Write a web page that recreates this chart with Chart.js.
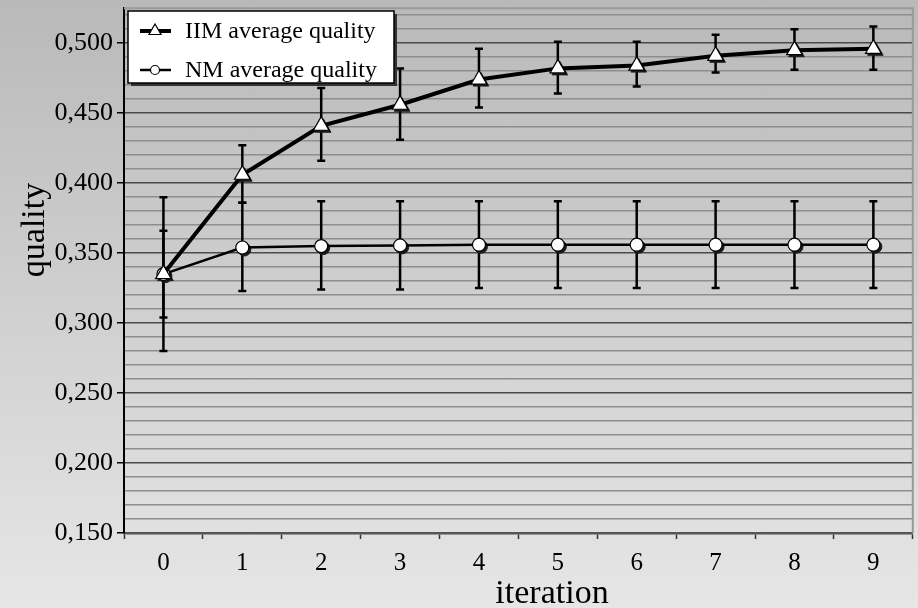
<!DOCTYPE html>
<html lang="en">
<head>
    <meta charset="UTF-8">
    <title>IIM vs NM average quality</title>
    <script src="https://cdn.jsdelivr.net/npm/chart.js"></script>
    <style>
        html, body {
            margin: 0;
            padding: 0;
            width: 100%;
            height: 100%;
            overflow: hidden;
        }
        body {
            background: linear-gradient(to bottom, #b9b9b9, #e6e6e6);
        }
        /* a bit wider/taller than the window: Chart.js keeps ~10px around the markers */
        .wrap {
            width: 923px;
            height: 610px;
            margin-top: -2px;
            position: relative;
        }
    </style>
</head>
<body>

    <div class="wrap"><canvas id="qualityChart"></canvas></div>

    <script>
        const iterations = ['0', '1', '2', '3', '4', '5', '6', '7', '8', '9'];

        const iimMean  = [0.335, 0.406, 0.441, 0.456, 0.474, 0.482, 0.484, 0.491, 0.495, 0.496];
        const iimUpper = [0.366, 0.427, 0.468, 0.482, 0.496, 0.501, 0.501, 0.506, 0.510, 0.512];
        const iimLower = [0.304, 0.386, 0.416, 0.431, 0.454, 0.464, 0.469, 0.479, 0.481, 0.481];

        const nmMean  = [0.335, 0.354, 0.355, 0.3555, 0.356, 0.356, 0.356, 0.356, 0.356, 0.356];
        const nmUpper = [0.390, 0.386, 0.387, 0.387, 0.387, 0.387, 0.387, 0.387, 0.387, 0.387];
        const nmLower = [0.280, 0.323, 0.324, 0.324, 0.325, 0.325, 0.325, 0.325, 0.325, 0.325];

        const yMin = 0.15;
        const yMax = 0.525;
        const xTitle = 'iteration';
        const yTitle = 'quality';

        const FONT = "'Liberation Serif', 'Times New Roman', serif";

        // minor gridline every 0.01, labelled every 0.05
        const yTicks = [];
        for (let k = 15; k <= 52; k++) yTicks.push(k / 100);
        const isMajor = v => Math.round(v * 100) % 5 === 0;

        // vertical error bars + marker shadows, drawn under the lines and markers
        const errorBars = {
            id: 'errorBars',
            beforeDatasetsDraw(chart) {
                const ctx = chart.ctx;
                const yScale = chart.scales.y;
                chart.data.datasets.forEach((ds, i) => {
                    const meta = chart.getDatasetMeta(i);
                    ctx.save();
                    ctx.strokeStyle = '#000';
                    ctx.lineWidth = 2.5;
                    meta.data.forEach((pt, j) => {
                        const top = yScale.getPixelForValue(ds.errUpper[j]);
                        const bot = yScale.getPixelForValue(ds.errLower[j]);
                        ctx.beginPath();
                        ctx.moveTo(pt.x, top);
                        ctx.lineTo(pt.x, bot);
                        ctx.moveTo(pt.x - 4, top);
                        ctx.lineTo(pt.x + 4, top);
                        ctx.moveTo(pt.x - 4, bot);
                        ctx.lineTo(pt.x + 4, bot);
                        ctx.stroke();
                    });
                    ctx.fillStyle = '#1a1a1a';
                    ctx.strokeStyle = '#1a1a1a';
                    ctx.lineWidth = 1;
                    meta.data.forEach(pt => {
                        Chart.helpers.drawPoint(ctx, {
                            pointStyle: ds.pointStyle,
                            radius: ds.pointRadius,
                            borderWidth: 1
                        }, pt.x + 2, pt.y + 2);
                    });
                    ctx.restore();
                });
            }
        };

        // top/right frame, axis titles and the boxed legend inside the plot
        const decorations = {
            id: 'decorations',
            beforeDatasetsDraw(chart) {
                const { ctx, chartArea: a } = chart;
                ctx.save();
                ctx.strokeStyle = '#9a9a9a';
                ctx.lineWidth = 2;
                ctx.beginPath();
                ctx.moveTo(a.left, a.top);
                ctx.lineTo(a.right, a.top);
                ctx.lineTo(a.right, a.bottom);
                ctx.stroke();
                ctx.restore();
            },
            afterDraw(chart) {
                const ctx = chart.ctx;
                ctx.save();
                ctx.fillStyle = '#000';
                ctx.font = '34px ' + FONT;
                ctx.textAlign = 'center';
                ctx.textBaseline = 'alphabetic';
                ctx.fillText(xTitle, 552, 605);
                ctx.translate(44, 232);
                ctx.rotate(-Math.PI / 2);
                ctx.fillText(yTitle, 0, 0);
                ctx.restore();

                // legend
                const lx = 128, ly = 13, lw = 266, lh = 72;
                ctx.save();
                ctx.fillStyle = '#333';
                ctx.fillRect(lx + 3, ly + 3, lw, lh);
                ctx.fillStyle = '#fff';
                ctx.fillRect(lx, ly, lw, lh);
                ctx.strokeStyle = '#000';
                ctx.lineWidth = 1.5;
                ctx.strokeRect(lx, ly, lw, lh);
                const rows = [33, 72];
                chart.data.datasets.forEach((ds, i) => {
                    const y = rows[i];
                    ctx.strokeStyle = '#000';
                    ctx.lineWidth = ds.borderWidth;
                    ctx.beginPath();
                    ctx.moveTo(140, y);
                    ctx.lineTo(171, y);
                    ctx.stroke();
                    ctx.fillStyle = '#fff';
                    ctx.strokeStyle = '#000';
                    ctx.lineWidth = 1.2;
                    Chart.helpers.drawPoint(ctx, {
                        pointStyle: ds.pointStyle,
                        radius: ds.pointRadius - 2,
                        borderWidth: 1.2
                    }, 155, y);
                    ctx.fillStyle = '#000';
                    ctx.font = '24px ' + FONT;
                    ctx.textAlign = 'left';
                    ctx.textBaseline = 'middle';
                    ctx.fillText(ds.label, 185, y + 1);
                });
                ctx.restore();
            }
        };

        new Chart(document.getElementById('qualityChart'), {
            type: 'line',
            data: {
                labels: iterations,
                datasets: [{
                    label: 'IIM average quality',
                    data: iimMean,
                    errUpper: iimUpper,
                    errLower: iimLower,
                    borderColor: '#000',
                    borderWidth: 4,
                    pointStyle: 'triangle',
                    pointRadius: 9,
                    pointBackgroundColor: '#fff',
                    pointBorderColor: '#000',
                    pointBorderWidth: 1.2,
                    tension: 0
                }, {
                    label: 'NM average quality',
                    data: nmMean,
                    errUpper: nmUpper,
                    errLower: nmLower,
                    borderColor: '#000',
                    borderWidth: 2.5,
                    pointStyle: 'circle',
                    pointRadius: 6.5,
                    pointBackgroundColor: '#fff',
                    pointBorderColor: '#000',
                    pointBorderWidth: 1.2,
                    tension: 0
                }]
            },
            options: {
                responsive: true,
                maintainAspectRatio: false,
                animation: false,
                layout: { padding: { top: 7, right: 5, left: 0, bottom: 0 } },
                plugins: {
                    legend: { display: false },
                    tooltip: { enabled: false }
                },
                scales: {
                    x: {
                        type: 'category',
                        offset: true,
                        grid: {
                            offset: true,
                            drawOnChartArea: false,
                            tickLength: 6,
                            tickColor: '#333',
                            tickWidth: 1.5
                        },
                        border: { color: '#555', width: 2.5 },
                        ticks: {
                            color: '#000',
                            font: { family: FONT, size: 25 },
                            padding: 9,
                            maxRotation: 0,
                            autoSkip: false
                        },
                        afterFit: s => {
                            s.height = 75;
                            s.paddingLeft = 0;
                            s.paddingRight = 0;
                        }
                    },
                    y: {
                        min: yMin,
                        max: yMax,
                        afterBuildTicks: s => { s.ticks = yTicks.map(v => ({ value: v })); },
                        grid: {
                            color: c => isMajor(c.tick.value) ? '#4a4a4a' : '#8e8e8e',
                            lineWidth: 1.5,
                            tickLength: 7,
                            tickColor: c => isMajor(c.tick.value) ? '#000' : 'rgba(0,0,0,0)'
                        },
                        border: { color: '#000', width: 2 },
                        ticks: {
                            autoSkip: false,
                            color: '#000',
                            padding: 4,
                            font: { family: FONT, size: 26 },
                            callback: v => isMajor(v) ? v.toFixed(3).replace('.', ',') : ''
                        },
                        afterFit: s => {
                            s.width = 124;
                            s.paddingTop = 0;
                            s.paddingBottom = 0;
                        }
                    }
                }
            },
            plugins: [errorBars, decorations]
        });
    </script>

</body>
</html>
